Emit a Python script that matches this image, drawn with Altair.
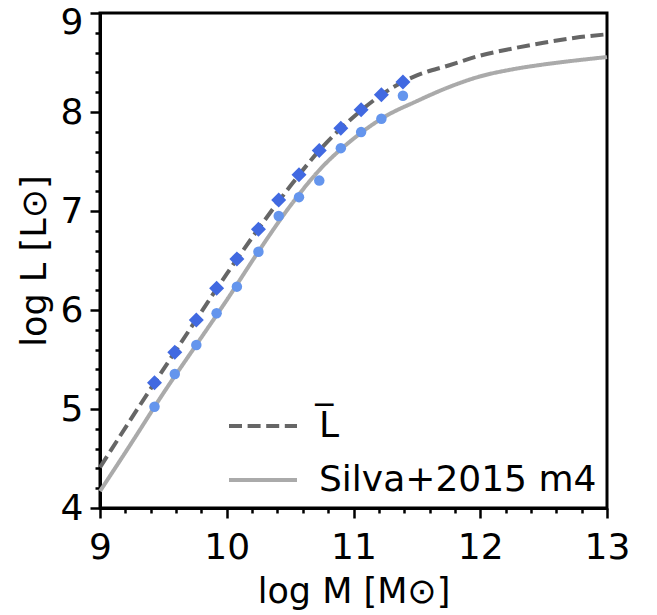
import altair as alt
import pandas as pd

# ---- data ----
curve_x = [9.0, 9.25, 9.5, 9.75, 10.0, 10.25, 10.5, 10.75, 11.0, 11.25, 11.5, 11.75,
           12.0, 12.25, 12.5, 12.75, 13.0]
mean_L = [4.41, 4.91, 5.40, 5.885, 6.365, 6.82, 7.25, 7.64, 7.95, 8.20, 8.37, 8.47,
          8.57, 8.64, 8.70, 8.75, 8.785]
silva_L = [4.17, 4.66, 5.16, 5.63, 6.10, 6.59, 7.05, 7.44, 7.73, 7.955, 8.11, 8.25,
           8.36, 8.43, 8.48, 8.52, 8.555]

bin_x = [9.43, 9.59, 9.76, 9.92, 10.08, 10.25, 10.41, 10.57, 10.73, 10.90, 11.06, 11.22, 11.39]
diamond_L = [5.265, 5.572, 5.899, 6.219, 6.516, 6.816, 7.112, 7.365, 7.611, 7.837, 8.022, 8.174, 8.302]
circle_L = [5.022, 5.353, 5.646, 5.967, 6.236, 6.589, 6.950, 7.140, 7.307, 7.635, 7.797, 7.931, 8.164]

series_names = ["L\u0305", "Silva+2015 m4"]
series_colors = ["#666666", "#aaaaaa"]
series_dashes = [[13, 5.6], [1, 0]]

x_ticks = [9.0, 9.2, 9.4, 9.6, 9.8, 10.0, 10.2, 10.4, 10.6, 10.8, 11.0, 11.2, 11.4, 11.6, 11.8,
           12.0, 12.2, 12.4, 12.6, 12.8, 13.0]
y_ticks = [4.0, 4.2, 4.4, 4.6, 4.8, 5.0, 5.2, 5.4, 5.6, 5.8, 6.0, 6.2, 6.4, 6.6, 6.8, 7.0,
           7.2, 7.4, 7.6, 7.8, 8.0, 8.2, 8.4, 8.6, 8.8, 9.0]

# ---- tables ----
line_df = pd.DataFrame({
    "logM": curve_x + curve_x,
    "logL": mean_L + silva_L,
    "series": [series_names[0]] * len(curve_x) + [series_names[1]] * len(curve_x),
})
diamond_df = pd.DataFrame({"logM": bin_x, "logL": diamond_L})
circle_df = pd.DataFrame({"logM": bin_x, "logL": circle_L})

FONT = "DejaVu Sans"
major = "abs(datum.value - round(datum.value)) < 0.001"

def make_axis(title, vals, title_pad, label_pad, label_offset=0):
    return alt.Axis(
        title=title,
        values=vals,
        labelExpr=f"{major} ? format(datum.value, 'd') : ''",
        tickSize={"condition": {"test": major, "value": 10}, "value": 5},
        tickWidth=2.5,
        tickColor="black",
        domainColor="black",
        domainWidth=3,
        grid=False,
        labelFont=FONT,
        labelFontSize=36,
        labelColor="black",
        labelPadding=label_pad,
        labelOffset=label_offset,
        labelFlush=False,
        labelOverlap=False,
        titleFont=FONT,
        titleFontSize=35,
        titleFontWeight="normal",
        titleColor="black",
        titlePadding=title_pad,
    )

x_scale = alt.Scale(domain=[9, 13], nice=False, zero=False)
y_scale = alt.Scale(domain=[4, 9], nice=False, zero=False)
x_enc = alt.X("logM:Q", scale=x_scale, axis=make_axis("log M [M\u2299]", x_ticks, 9, 12))
y_enc = alt.Y("logL:Q", scale=y_scale,
              axis=make_axis("log L [L\u2299]", y_ticks, 8, 7,
                             {"condition": {"test": "datum.value > 8.99", "value": 9}, "value": 0}))

legend = alt.Legend(
    title=None, orient="none", legendX=127, legendY=377, padding=0,
    symbolType="stroke", symbolSize=4624, symbolStrokeWidth=4,
    labelFont=FONT, labelFontSize=36, labelColor="black", labelOffset=20,
    labelLimit=400, rowPadding=-15,
)

lines = alt.Chart(line_df).mark_line(strokeWidth=4, interpolate="monotone").encode(
    x=x_enc,
    y=y_enc,
    color=alt.Color("series:N", scale=alt.Scale(domain=series_names, range=series_colors),
                    legend=legend),
    strokeDash=alt.StrokeDash("series:N", scale=alt.Scale(domain=series_names, range=series_dashes),
                              legend=legend),
)

circles = alt.Chart(circle_df).mark_circle(size=110, color="#6495ED", opacity=1).encode(
    x=x_enc, y=y_enc)
diamonds = alt.Chart(diamond_df).mark_point(shape="diamond", filled=True, size=225,
                                            color="#4169E1", opacity=1).encode(
    x=x_enc, y=y_enc)

chart = alt.layer(lines, circles, diamonds).properties(
    width=507, height=495,
    autosize=alt.AutoSizeParams(type="none"),
    padding={"left": 92, "top": 5, "right": 34, "bottom": 107},
).configure_view(stroke="black", strokeWidth=3)

chart.save("out.html", embed_options={"renderer": "svg", "actions": False})
